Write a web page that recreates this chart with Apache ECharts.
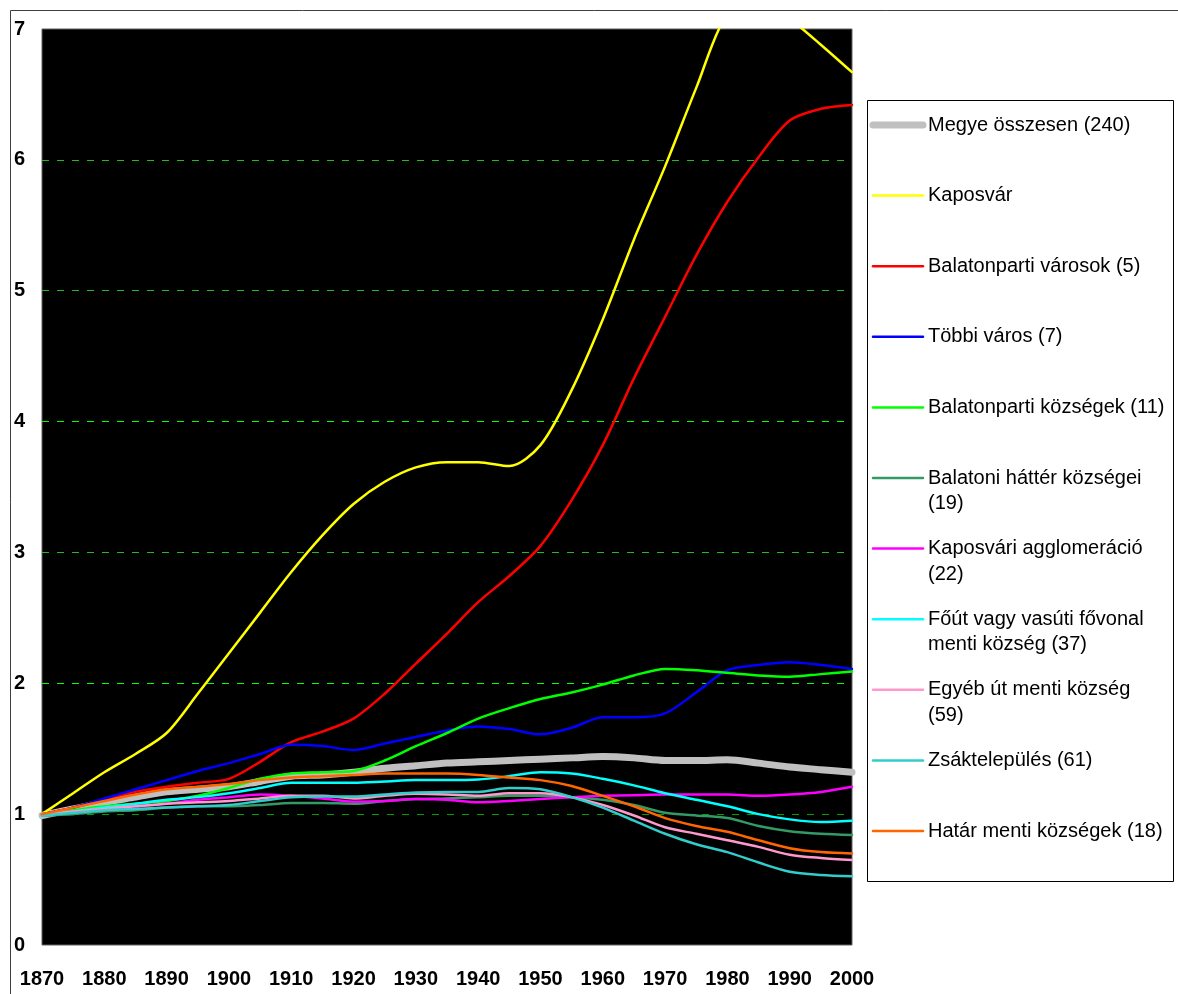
<!DOCTYPE html>
<html>
<head>
<meta charset="utf-8">
<script src="https://cdn.jsdelivr.net/npm/echarts@6/dist/echarts.min.js"></script>
<style>
html,body{margin:0;padding:0;background:#fff;}
#chart{width:1178px;height:994px;}
</style>
</head>
<body>
<div id="chart"></div>
<script>
// ---- data ----
const years = [1870,1875,1880,1885,1890,1895,1900,1905,1910,1915,1920,1925,1930,1935,1940,1945,1950,1955,1960,1965,1970,1975,1980,1985,1990,1995,2000];
const yTicks = [0,1,2,3,4,5,6,7];
const xTicks = [1870,1880,1890,1900,1910,1920,1930,1940,1950,1960,1970,1980,1990,2000];

const megye      = [0.99,1.04,1.09,1.13,1.17,1.19,1.21,1.25,1.29,1.30,1.32,1.35,1.37,1.39,1.40,1.41,1.42,1.43,1.44,1.43,1.41,1.41,1.415,1.39,1.36,1.34,1.32];
const kaposvar   = [1.00,1.16,1.32,1.46,1.62,1.92,2.23,2.54,2.85,3.13,3.37,3.54,3.65,3.69,3.69,3.66,3.82,4.24,4.78,5.39,5.95,6.55,7.12,7.25,7.08,6.88,6.67];
const balVarosok = [1.00,1.05,1.11,1.17,1.21,1.24,1.27,1.40,1.55,1.63,1.73,1.92,2.15,2.38,2.62,2.82,3.05,3.40,3.82,4.33,4.80,5.27,5.68,6.02,6.30,6.39,6.42];
const tobbiVaros = [1.00,1.05,1.12,1.19,1.26,1.33,1.39,1.46,1.53,1.52,1.49,1.54,1.59,1.64,1.67,1.65,1.61,1.66,1.74,1.74,1.77,1.93,2.10,2.14,2.16,2.14,2.11];
const balKozseg  = [1.00,1.03,1.06,1.08,1.10,1.14,1.20,1.27,1.31,1.32,1.33,1.41,1.52,1.62,1.73,1.81,1.88,1.93,1.99,2.06,2.11,2.10,2.08,2.06,2.05,2.07,2.09];
const balHatter  = [0.99,1.00,1.02,1.03,1.05,1.06,1.06,1.07,1.085,1.085,1.08,1.10,1.115,1.12,1.13,1.14,1.14,1.13,1.11,1.07,1.01,0.99,0.97,0.91,0.87,0.85,0.84];
const kapAggl    = [1.00,1.02,1.04,1.06,1.08,1.11,1.13,1.15,1.14,1.12,1.095,1.10,1.115,1.11,1.09,1.10,1.115,1.13,1.14,1.145,1.15,1.15,1.15,1.14,1.15,1.17,1.21];
const foutMenti  = [0.99,1.02,1.05,1.08,1.11,1.13,1.16,1.20,1.24,1.24,1.24,1.25,1.26,1.26,1.265,1.29,1.32,1.31,1.27,1.22,1.16,1.11,1.06,1.00,0.96,0.94,0.95];
const egyebUt    = [1.00,1.02,1.04,1.06,1.08,1.09,1.10,1.12,1.14,1.14,1.12,1.14,1.155,1.15,1.14,1.16,1.16,1.13,1.07,0.99,0.90,0.85,0.80,0.75,0.69,0.665,0.65];
const zsak       = [0.99,1.01,1.03,1.04,1.05,1.06,1.07,1.10,1.13,1.135,1.135,1.15,1.165,1.17,1.17,1.20,1.19,1.13,1.05,0.95,0.85,0.77,0.71,0.63,0.56,0.535,0.525];
const hatarMenti = [1.00,1.05,1.10,1.15,1.19,1.21,1.23,1.26,1.28,1.29,1.30,1.31,1.31,1.31,1.30,1.28,1.26,1.215,1.14,1.06,0.97,0.91,0.865,0.80,0.74,0.71,0.70];

const seriesNames = ['Megye összesen (240)','Kaposvár','Balatonparti városok (5)','Többi város (7)','Balatonparti községek (11)','Balatoni háttér községei (19)','Kaposvári agglomeráció (22)','Főút vagy vasúti fővonal menti község (37)','Egyéb út menti község (59)','Zsáktelepülés (61)','Határ menti községek (18)'];
const legendLabels = ['Megye összesen (240)','Kaposvár','Balatonparti városok (5)','Többi város (7)','Balatonparti községek (11)','Balatoni háttér községei\n(19)','Kaposvári agglomeráció\n(22)','Főút vagy vasúti fővonal\nmenti község (37)','Egyéb út menti község\n(59)','Zsáktelepülés (61)','Határ menti községek (18)'];
const seriesValues = [megye,kaposvar,balVarosok,tobbiVaros,balKozseg,balHatter,kapAggl,foutMenti,egyebUt,zsak,hatarMenti];

// ---- styles ----
const colors = ['#c0c0c0','#ffff00','#ff0000','#0000ff','#00ff00','#339966','#ff00ff','#00ffff','#ff99cc','#33cccc','#ff6600'];
const widths = [7,2.5,2.5,2.5,2.5,2.5,2.5,2.5,2.5,2.5,2.5];
const gridColors = ['rgba(0,0,0,0)','#00a000','#00ff00','#22bb22','#00ff00','#22bb22','#22bb22','rgba(0,0,0,0)'];
const FONT = '"Liberation Sans", Arial, sans-serif';

const chart = echarts.init(document.getElementById('chart'), null, {renderer:'canvas'});

const series = seriesValues.map((vals, i) => ({
  name: seriesNames[i],
  type: 'line',
  data: years.map((y, k) => [y, vals[k]]),
  smooth: 0.3,
  symbol: 'none',
  clip: true,
  lineStyle: {color: colors[i], width: widths[i], cap: 'round', join: 'round'},
  itemStyle: {color: colors[i]},
  z: 2 + i,
  emphasis: {disabled: true},
  animation: false
}));

// legend built as graphic elements
const legTop = 125, legPitch = 70.6, legLineX1 = 873, legLineX2 = 923, legTextX = 928, legLH = 25.5;
const graphics = [
  {type:'rect', z:-10, shape:{x:10.5, y:10.5, width:1200, height:1000}, style:{fill:'none', stroke:'#404040', lineWidth:1}},
  {type:'rect', z:5, shape:{x:867.5, y:100.5, width:306, height:781}, style:{fill:'#fff', stroke:'#000', lineWidth:1}}
];
legendLabels.forEach((lab, i) => {
  const cy = legTop + i * legPitch;
  graphics.push({type:'line', z:6, shape:{x1:legLineX1, y1:cy, x2:legLineX2, y2:cy},
    style:{stroke: colors[i], lineWidth: widths[i], lineCap:'round'}});
  graphics.push({type:'text', z:6, x: legTextX, y: cy - legLH/2,
    style:{text: lab, font: '20px ' + FONT, fill:'#000', verticalAlign:'top', align:'left', lineHeight: legLH}});
});

chart.setOption({
  animation: false,
  backgroundColor: '#fff',
  grid: {left:42, top:29, right:326, bottom:49, show:true, backgroundColor:'#000', borderColor:'#606060', borderWidth:1},
  xAxis: {
    type:'value', min: xTicks[0], max: xTicks[xTicks.length-1], interval: 10,
    axisLine:{show:false}, axisTick:{show:false}, splitLine:{show:false},
    axisLabel:{fontFamily: FONT, fontSize:20, fontWeight:'bold', color:'#000', margin:34, verticalAlign:'middle',
      formatter: v => String(v)}
  },
  yAxis: {
    type:'value', min: yTicks[0], max: yTicks[yTicks.length-1], interval: 1,
    axisLine:{show:false}, axisTick:{show:false},
    splitLine:{show:true, showMinLine:true, showMaxLine:true, lineStyle:{color: gridColors, type:[7,8], width:1}},
    axisLabel:{fontFamily: FONT, fontSize:20, fontWeight:'bold', color:'#000', margin:28, align:'left'}
  },
  series: series,
  graphic: graphics
});
</script>
</body>
</html>
